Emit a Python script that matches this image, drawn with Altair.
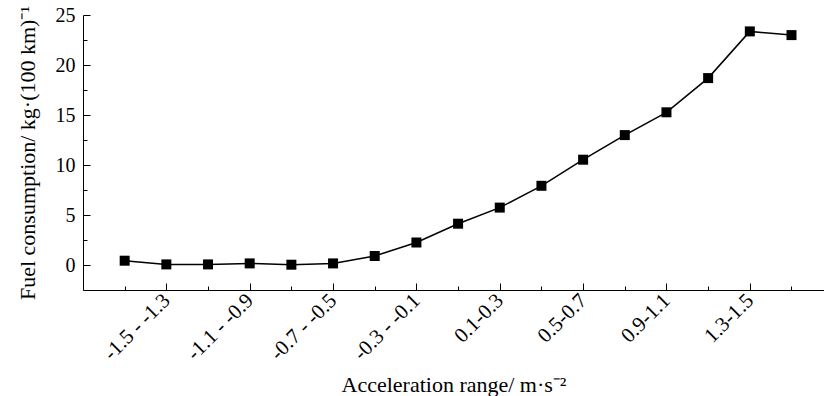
import json
import altair as alt
import pandas as pd

categories = ["-1.7 - -1.5", "-1.5 - -1.3", "-1.3 - -1.1", "-1.1 - -0.9",
              "-0.9 - -0.7", "-0.7 - -0.5", "-0.5 - -0.3", "-0.3 - -0.1",
              "-0.1-0.1", "0.1-0.3", "0.3-0.5", "0.5-0.7", "0.7-0.9",
              "0.9-1.1", "1.1-1.3", "1.3-1.5", "1.5-1.7"]
fuel = [0.43, 0.06, 0.06, 0.16, 0.03, 0.16, 0.90, 2.25, 4.13, 5.74,
        7.92, 10.53, 12.99, 15.27, 18.69, 23.36, 22.99]
x_major = [1, 3, 5, 7, 9, 11, 13, 15]
x_all = list(range(17))
y_major = [0, 5, 10, 15, 20, 25]
y_all = [-2.5, 0, 2.5, 5, 7.5, 10, 12.5, 15, 17.5, 20, 22.5, 25]

df = pd.DataFrame({"idx": list(range(len(categories))), "cat": categories, "fuel": fuel})

W, H = 741, 275
FONT = "Liberation Serif"
label_expr = json.dumps(categories) + "[datum.value]"

x_scale = alt.Scale(domain=[-1, 16.78], nice=False, zero=False)
y_scale = alt.Scale(domain=[-2.5, 25], nice=False, zero=False)

x_bottom = alt.Axis(orient="bottom", values=x_major, labelExpr=label_expr,
                    ticks=False, tickSize=0, grid=False, domain=True,
                    domainColor="black", domainWidth=1,
                    labelAngle=-45, labelAlign="right", labelBaseline="middle",
                    labelPadding=7, labelFont=FONT, labelFontSize=21,
                    labelColor="black",
                    title="Acceleration range/ m·s⁻²", titleFont=FONT,
                    titleFontSize=22, titleFontWeight="normal",
                    titleColor="black", titleBaseline="alphabetic",
                    titleX=W / 2, titleY=101)
y_left = alt.Axis(orient="left", values=y_major, ticks=False, tickSize=0,
                  grid=False, domain=True, domainColor="black", domainWidth=1,
                  labelPadding=8, labelFont=FONT, labelFontSize=20,
                  labelColor="black",
                  title="Fuel consumption/ kg·(100 km)⁻¹", titleFont=FONT,
                  titleFontSize=22, titleFontWeight="normal",
                  titleColor="black", titleBaseline="alphabetic",
                  titleAngle=-90, titleAlign="center",
                  titleX=-49, titleY=H / 2)

x_ticks = alt.Axis(orient="top", offset=-H, values=x_all, labels=False,
                   domain=False, grid=False, title=None, tickColor="black",
                   tickWidth=1,
                   tickSize={"condition": {"test": "datum.value % 2 == 1", "value": 7}, "value": 4})
y_ticks = alt.Axis(orient="right", offset=-W, values=y_all, labels=False,
                   domain=False, grid=False, title=None, tickColor="black",
                   tickWidth=1,
                   tickSize={"condition": {"test": "datum.value % 5 == 0", "value": 7}, "value": 4})

base = alt.Chart(df)

line = base.mark_line(color="black", strokeWidth=1.5).encode(
    x=alt.X("idx:Q", scale=x_scale, axis=x_bottom),
    y=alt.Y("fuel:Q", scale=y_scale, axis=y_left),
)
points = base.mark_point(shape="square", filled=True, color="black",
                         size=100, opacity=1).encode(
    x=alt.X("idx:Q", scale=x_scale, axis=x_ticks),
    y=alt.Y("fuel:Q", scale=y_scale, axis=y_ticks),
)

chart = alt.layer(line, points).resolve_axis(
    x="independent", y="independent"
).properties(
    width=W, height=H,
    autosize=alt.AutoSizeParams(type="none"),
    padding={"left": 83, "top": 15, "right": 0, "bottom": 106},
    background="white",
).configure_view(strokeWidth=0)

chart.save("out.html", embed_options={"renderer": "svg", "actions": False})
